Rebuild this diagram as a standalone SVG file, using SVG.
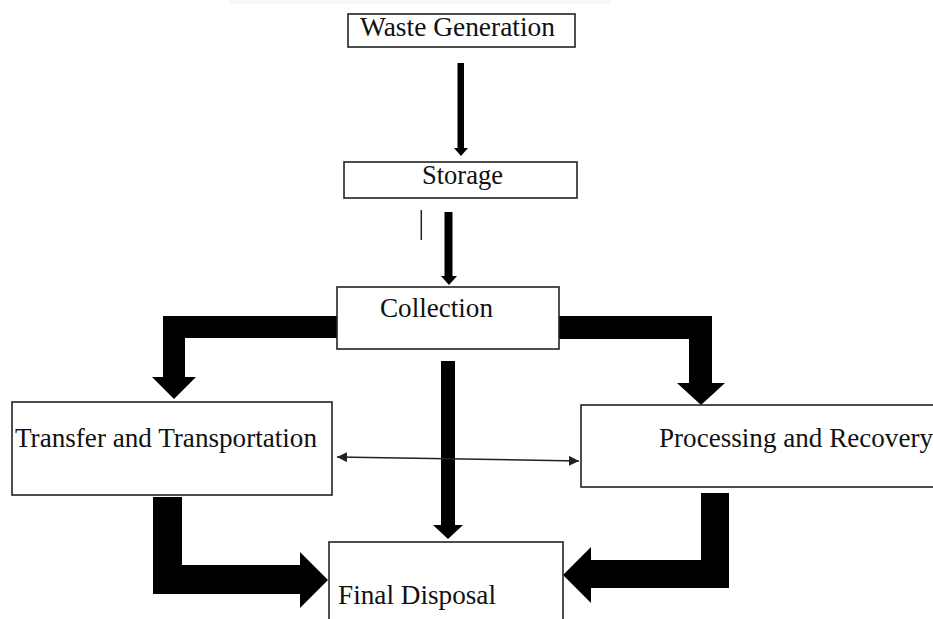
<svg xmlns="http://www.w3.org/2000/svg" width="933" height="619" viewBox="0 0 933 619">
<defs>
<style>
.box{fill:#fff;stroke:#222;stroke-width:1.6}
.lbl{font-family:'Liberation Serif','DejaVu Serif','Times New Roman',serif;font-size:27px;fill:#111}
.thick{fill:#000;stroke:none}
.thin{stroke:#222;stroke-width:1.5;fill:none}
</style>
<marker id="ah" viewBox="0 0 10 10" refX="10" refY="5" markerWidth="10" markerHeight="10" markerUnits="userSpaceOnUse" orient="auto-start-reverse">
<path d="M0,0 L10,5 L0,10 Z" fill="#222"/>
</marker>
</defs>
<rect x="0" y="0" width="933" height="619" fill="#fff"/>
<rect x="230" y="0" width="380" height="4" fill="#f6f7f9"/>

<g id="connectors">
<rect class="thick" x="457.5" y="63" width="6.5" height="86"/>
<polygon class="thick" points="454,148 468,148 461,156"/>
<line class="thin" x1="421.3" y1="210" x2="421.3" y2="240"/>
<rect class="thick" x="444.5" y="212" width="8" height="65"/>
<polygon class="thick" points="441,276 457,276 449,285"/>
<polygon class="thick" points="337,316 163,316 163,377 152,377 174,399 196,377 185,377 185,338 337,338"/>
<polygon class="thick" points="559,316 712,316 712,383 725,383 701,405 677,383 689,383 689,339 559,339"/>
<rect class="thick" x="441" y="361" width="14" height="165"/>
<polygon class="thick" points="433,525 463,525 448,539"/>
<line class="thin" x1="337" y1="457" x2="579" y2="461" marker-start="url(#ah)" marker-end="url(#ah)"/>
<polygon class="thick" points="153,497 182,497 182,565 300,565 300,552 328,580 300,608 300,594 153,594"/>
<polygon class="thick" points="729,493 701,493 701,560 591,560 591,547 563,575 591,603 591,588 729,588"/>
</g>

<g id="waste-generation">
<rect class="box" x="348" y="14" width="227" height="33"/>
<text class="lbl" font-family="Liberation Serif, serif" x="360" y="36" textLength="195" lengthAdjust="spacingAndGlyphs">Waste Generation</text>
</g>
<g id="storage">
<rect class="box" x="344" y="162" width="233" height="36"/>
<text class="lbl" font-family="Liberation Serif, serif" x="422" y="184" textLength="81" lengthAdjust="spacingAndGlyphs">Storage</text>
</g>
<g id="collection">
<rect class="box" x="337" y="287" width="222" height="62"/>
<text class="lbl" font-family="Liberation Serif, serif" x="380" y="317" textLength="113" lengthAdjust="spacingAndGlyphs">Collection</text>
</g>
<g id="transfer">
<rect class="box" x="12" y="402" width="320" height="93"/>
<text class="lbl" font-family="Liberation Serif, serif" x="15" y="447" textLength="302" lengthAdjust="spacingAndGlyphs">Transfer and Transportation</text>
</g>
<g id="processing">
<rect class="box" x="581" y="405" width="360" height="82"/>
<text class="lbl" font-family="Liberation Serif, serif" x="659" y="447" textLength="274" lengthAdjust="spacingAndGlyphs">Processing and Recovery</text>
</g>
<g id="final-disposal">
<rect class="box" x="329" y="542" width="234" height="90"/>
<text class="lbl" font-family="Liberation Serif, serif" x="338" y="604" textLength="158" lengthAdjust="spacingAndGlyphs">Final Disposal</text>
</g>
</svg>
